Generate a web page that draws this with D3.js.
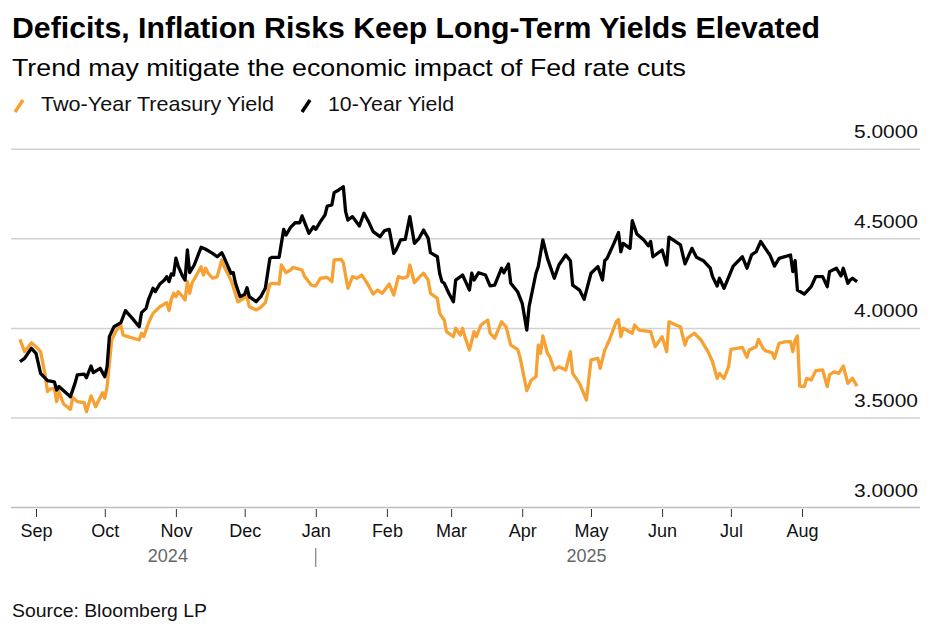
<!DOCTYPE html>
<html>
<head>
<meta charset="utf-8">
<script src="https://cdn.jsdelivr.net/npm/d3@7"></script>
<style>
body { margin: 0; background: #fff; }
svg { display: block; }
text { font-family: "Liberation Sans", Arial, sans-serif; }
</style>
</head>
<body>
<svg id="chart" width="930" height="624"></svg>
<script>
// 10-year yield
var dates10 = ["2024-08-25","2024-08-27","2024-08-30","2024-09-01","2024-09-03","2024-09-06","2024-09-09","2024-09-10","2024-09-11","2024-09-16",
  "2024-09-18","2024-09-19","2024-09-22","2024-09-23","2024-09-25","2024-09-26","2024-09-29","2024-10-01","2024-10-02","2024-10-03",
  "2024-10-05","2024-10-08","2024-10-09","2024-10-10","2024-10-13","2024-10-16","2024-10-17","2024-10-19","2024-10-20","2024-10-22",
  "2024-10-23","2024-10-25","2024-10-27","2024-10-28","2024-10-29","2024-10-30","2024-10-31","2024-11-01","2024-11-02","2024-11-04",
  "2024-11-05","2024-11-06","2024-11-07","2024-11-09","2024-11-12","2024-11-14","2024-11-17","2024-11-19","2024-11-21","2024-11-22",
  "2024-11-25","2024-11-26","2024-11-27","2024-11-29","2024-12-01","2024-12-02","2024-12-03","2024-12-06","2024-12-08","2024-12-10",
  "2024-12-12","2024-12-13","2024-12-16","2024-12-18","2024-12-19","2024-12-21","2024-12-23","2024-12-25","2024-12-26","2024-12-29",
  "2024-12-31","2025-01-01","2025-01-03","2025-01-05","2025-01-06","2025-01-08","2025-01-09","2025-01-11","2025-01-13","2025-01-14",
  "2025-01-15","2025-01-17","2025-01-20","2025-01-22","2025-01-24","2025-01-26","2025-01-29","2025-01-31","2025-02-02","2025-02-04",
  "2025-02-05","2025-02-07","2025-02-09","2025-02-11","2025-02-13","2025-02-15","2025-02-17","2025-02-19","2025-02-20","2025-02-23",
  "2025-02-24","2025-02-25","2025-02-26","2025-02-28","2025-03-02","2025-03-03","2025-03-06","2025-03-09","2025-03-10","2025-03-11",
  "2025-03-13","2025-03-16","2025-03-18","2025-03-20","2025-03-23","2025-03-24","2025-03-26","2025-03-27","2025-03-30","2025-04-01",
  "2025-04-03","2025-04-04","2025-04-07","2025-04-08","2025-04-10","2025-04-12","2025-04-15","2025-04-17","2025-04-20","2025-04-22",
  "2025-04-23","2025-04-26","2025-04-28","2025-05-01","2025-05-04","2025-05-06","2025-05-07","2025-05-08","2025-05-11","2025-05-13",
  "2025-05-14","2025-05-15","2025-05-18","2025-05-19","2025-05-21","2025-05-24","2025-05-26","2025-05-27","2025-05-28","2025-06-01",
  "2025-06-03","2025-06-04","2025-06-09","2025-06-11","2025-06-14","2025-06-16","2025-06-19","2025-06-22","2025-06-23","2025-06-25",
  "2025-06-26","2025-06-28","2025-07-02","2025-07-06","2025-07-08","2025-07-10","2025-07-12","2025-07-14","2025-07-16","2025-07-18",
  "2025-07-20","2025-07-22","2025-07-27","2025-07-28","2025-07-29","2025-07-30","2025-08-02","2025-08-05","2025-08-07","2025-08-10",
  "2025-08-12","2025-08-13","2025-08-16","2025-08-18","2025-08-19","2025-08-21","2025-08-22","2025-08-23","2025-08-25"];
var yield10 = [3.814,3.833,3.889,3.861,3.749,3.708,3.702,3.656,3.675,3.619,
  3.693,3.740,3.745,3.725,3.790,3.753,3.777,3.730,3.786,3.954,
  4.009,4.032,4.065,4.099,4.056,4.009,4.088,4.112,4.159,4.224,
  4.205,4.248,4.270,4.289,4.261,4.304,4.298,4.392,4.348,4.289,
  4.270,4.438,4.311,4.354,4.453,4.442,4.419,4.400,4.423,4.397,
  4.308,4.311,4.252,4.177,4.190,4.227,4.177,4.149,4.177,4.224,
  4.391,4.397,4.397,4.553,4.521,4.564,4.590,4.590,4.628,4.531,
  4.568,4.553,4.596,4.633,4.683,4.689,4.758,4.773,4.791,4.652,
  4.605,4.624,4.572,4.643,4.596,4.540,4.512,4.546,4.553,4.419,
  4.438,4.494,4.497,4.624,4.475,4.503,4.549,4.503,4.423,4.400,
  4.308,4.261,4.252,4.196,4.149,4.270,4.298,4.214,4.308,4.270,
  4.311,4.298,4.237,4.242,4.336,4.311,4.360,4.252,4.205,4.140,
  3.991,4.121,4.308,4.345,4.494,4.391,4.280,4.354,4.410,4.378,
  4.242,4.214,4.162,4.308,4.345,4.270,4.378,4.391,4.475,4.535,
  4.428,4.475,4.447,4.601,4.527,4.494,4.461,4.485,4.400,4.438,
  4.354,4.509,4.466,4.360,4.447,4.397,4.378,4.336,4.289,4.237,
  4.280,4.224,4.348,4.400,4.336,4.410,4.428,4.485,4.447,4.410,
  4.348,4.391,4.410,4.317,4.378,4.214,4.192,4.233,4.289,4.289,
  4.233,4.317,4.336,4.293,4.336,4.252,4.270,4.280,4.261];

// two-year yield
var dates2 = ["2024-08-25","2024-08-27","2024-08-30","2024-09-01","2024-09-03","2024-09-05","2024-09-06","2024-09-07","2024-09-09","2024-09-10",
  "2024-09-11","2024-09-13","2024-09-16","2024-09-17","2024-09-19","2024-09-22","2024-09-23","2024-09-25","2024-09-27","2024-09-30",
  "2024-10-01","2024-10-02","2024-10-04","2024-10-06","2024-10-08","2024-10-09","2024-10-10","2024-10-16","2024-10-17","2024-10-18",
  "2024-10-20","2024-10-22","2024-10-25","2024-10-28","2024-10-29","2024-10-30","2024-10-31","2024-11-01","2024-11-02","2024-11-04",
  "2024-11-05","2024-11-06","2024-11-07","2024-11-08","2024-11-10","2024-11-12","2024-11-13","2024-11-14","2024-11-15","2024-11-17",
  "2024-11-19","2024-11-21","2024-11-22","2024-11-25","2024-11-26","2024-11-28","2024-11-30","2024-12-02","2024-12-03","2024-12-06",
  "2024-12-08","2024-12-10","2024-12-12","2024-12-13","2024-12-16","2024-12-17","2024-12-19","2024-12-21","2024-12-22","2024-12-26",
  "2024-12-27","2024-12-30","2025-01-01","2025-01-03","2025-01-06","2025-01-08","2025-01-09","2025-01-12","2025-01-13","2025-01-15",
  "2025-01-17","2025-01-19","2025-01-21","2025-01-23","2025-01-26","2025-01-28","2025-01-30","2025-02-02","2025-02-04","2025-02-06",
  "2025-02-08","2025-02-10","2025-02-11","2025-02-13","2025-02-15","2025-02-17","2025-02-19","2025-02-20","2025-02-23","2025-02-24",
  "2025-02-26","2025-02-27","2025-03-02","2025-03-03","2025-03-05","2025-03-06","2025-03-07","2025-03-09","2025-03-11","2025-03-12",
  "2025-03-14","2025-03-17","2025-03-18","2025-03-20","2025-03-23","2025-03-25","2025-03-27","2025-03-30","2025-03-31","2025-04-03",
  "2025-04-05","2025-04-07","2025-04-08","2025-04-09","2025-04-10","2025-04-12","2025-04-13","2025-04-15","2025-04-17","2025-04-20",
  "2025-04-22","2025-04-23","2025-04-26","2025-04-29","2025-05-01","2025-05-04","2025-05-05","2025-05-07","2025-05-09","2025-05-12",
  "2025-05-13","2025-05-14","2025-05-15","2025-05-19","2025-05-20","2025-05-22","2025-05-27","2025-05-29","2025-06-01","2025-06-03",
  "2025-06-04","2025-06-07","2025-06-09","2025-06-11","2025-06-12","2025-06-15","2025-06-18","2025-06-21","2025-06-23","2025-06-25",
  "2025-06-26","2025-06-28","2025-06-30","2025-07-01","2025-07-06","2025-07-08","2025-07-09","2025-07-12","2025-07-13","2025-07-15",
  "2025-07-16","2025-07-19","2025-07-20","2025-07-22","2025-07-25","2025-07-27","2025-07-28","2025-07-29","2025-07-30","2025-07-31",
  "2025-08-02","2025-08-03","2025-08-05","2025-08-07","2025-08-10","2025-08-12","2025-08-13","2025-08-15","2025-08-17","2025-08-19",
  "2025-08-21","2025-08-22","2025-08-23","2025-08-25"];
var yield2 = [3.939,3.870,3.920,3.898,3.870,3.740,3.647,3.660,3.666,3.591,
  3.647,3.578,3.548,3.615,3.591,3.585,3.535,3.623,3.563,3.641,
  3.610,3.674,3.935,3.987,4.019,3.963,3.958,3.935,3.973,3.954,
  4.029,4.084,4.121,4.144,4.099,4.162,4.196,4.177,4.205,4.177,
  4.159,4.261,4.196,4.252,4.298,4.345,4.298,4.336,4.308,4.280,
  4.289,4.382,4.345,4.270,4.233,4.149,4.162,4.181,4.121,4.103,
  4.118,4.144,4.248,4.252,4.248,4.354,4.311,4.326,4.341,4.326,
  4.293,4.242,4.237,4.280,4.285,4.261,4.382,4.386,4.367,4.224,
  4.289,4.280,4.298,4.261,4.192,4.214,4.196,4.248,4.186,4.289,
  4.280,4.289,4.354,4.255,4.285,4.308,4.270,4.196,4.168,4.084,
  4.047,3.982,3.954,4.001,3.963,4.001,3.954,3.879,3.982,3.954,
  4.019,4.047,3.973,3.945,4.037,4.009,3.907,3.883,3.842,3.652,
  3.712,3.730,3.907,3.861,3.958,3.861,3.842,3.768,3.786,3.768,
  3.870,3.749,3.693,3.600,3.824,3.833,3.777,3.879,3.935,4.037,
  4.050,3.954,4.001,3.973,4.019,3.991,3.982,3.898,3.954,3.870,
  4.037,4.019,4.009,3.907,3.945,3.973,3.935,3.870,3.814,3.721,
  3.749,3.721,3.786,3.883,3.894,3.839,3.879,3.898,3.939,3.889,
  3.876,3.864,3.833,3.917,3.926,3.926,3.870,3.935,3.958,3.678,
  3.675,3.721,3.712,3.764,3.768,3.675,3.740,3.758,3.749,3.790,
  3.693,3.708,3.721,3.678];

var monthTicks = ["2024-09-01","2024-10-01","2024-11-01","2024-12-01","2025-01-01","2025-02-01",
  "2025-03-01","2025-04-01","2025-05-01","2025-06-01","2025-07-01","2025-08-01"];
var yTicks = [3.0, 3.5, 4.0, 4.5, 5.0];
var yearLabels = ["2024", "2025"];
var seriesNames = ["Two-Year Treasury Yield", "10-Year Yield"];
var seriesColors = ["#f7a133", "#000000"];

var parse = d3.timeParse("%Y-%m-%d");
var svg = d3.select("#chart");

var x = d3.scaleTime()
    .domain([parse("2024-09-01"), parse("2025-08-01")])
    .range([36, 802]);
var y = d3.scaleLinear()
    .domain([3, 5])
    .range([507.5, 149.3]);

// title block
svg.append("text").attr("x", 12).attr("y", 38)
    .attr("font-size", 30).attr("font-weight", "bold").attr("fill", "#000")
    .attr("textLength", 808).attr("lengthAdjust", "spacingAndGlyphs")
    .text("Deficits, Inflation Risks Keep Long-Term Yields Elevated");
svg.append("text").attr("x", 12).attr("y", 76)
    .attr("font-size", 24).attr("fill", "#000")
    .attr("textLength", 674).attr("lengthAdjust", "spacingAndGlyphs")
    .text("Trend may mitigate the economic impact of Fed rate cuts");

// legend
var legendX = [14, 301];
var legendW = [233, 126];
seriesNames.forEach(function(name, i) {
    svg.append("line")
        .attr("x1", legendX[i] + 1).attr("y1", 112)
        .attr("x2", legendX[i] + 9).attr("y2", 100)
        .attr("stroke", seriesColors[i]).attr("stroke-width", 3.5);
    svg.append("text").attr("x", legendX[i] + 27).attr("y", 111)
        .attr("font-size", 21).attr("fill", "#111")
        .attr("textLength", legendW[i]).attr("lengthAdjust", "spacingAndGlyphs")
        .text(name);
});

// grid + y labels
svg.selectAll(".grid").data(yTicks).enter().append("line")
    .attr("x1", 11).attr("x2", 920)
    .attr("y1", function(d) { return y(d); })
    .attr("y2", function(d) { return y(d); })
    .attr("stroke", function(d) { return d === 3 ? "#bdbdbd" : "#d2d2d2"; })
    .attr("stroke-width", 1.5);
svg.selectAll(".ylab").data(yTicks).enter().append("text")
    .attr("x", 918).attr("y", function(d) { return y(d) - 11; })
    .attr("text-anchor", "end").attr("font-size", 17.5).attr("fill", "#111")
    .attr("textLength", 64).attr("lengthAdjust", "spacingAndGlyphs")
    .text(function(d) { return d3.format(".4f")(d); });

// x axis
var xAxis = d3.axisBottom(x)
    .tickValues(monthTicks.map(parse))
    .tickFormat(d3.timeFormat("%b"))
    .tickSize(8).tickPadding(7);
var gx = svg.append("g").attr("transform", "translate(0,509)").call(xAxis);
gx.select(".domain").remove();
gx.selectAll(".tick line").attr("stroke", "#333");
gx.selectAll(".tick text")
    .attr("font-size", 18).attr("fill", "#111")
    .attr("font-family", "Liberation Sans, Arial, sans-serif");

// year row
var start = parse(dates2[0]), end = parse(dates2[dates2.length - 1]), jan = parse("2025-01-01");
var yearMid = [new Date((+start + +jan) / 2), new Date((+jan + +end) / 2)];
yearLabels.forEach(function(lab, i) {
    svg.append("text").attr("x", x(yearMid[i])).attr("y", 562)
        .attr("text-anchor", "middle").attr("font-size", 18).attr("fill", "#666")
        .text(lab);
});
svg.append("line")
    .attr("x1", x(jan)).attr("x2", x(jan)).attr("y1", 548).attr("y2", 567)
    .attr("stroke", "#666").attr("stroke-width", 1);

// lines
var line = d3.line()
    .x(function(d) { return x(d[0]); })
    .y(function(d) { return y(d[1]); });

var series = [
    dates2.map(function(d, i) { return [parse(d), yield2[i]]; }),
    dates10.map(function(d, i) { return [parse(d), yield10[i]]; })
];
series.forEach(function(s, i) {
    svg.append("path").datum(s)
        .attr("d", line)
        .attr("fill", "none")
        .attr("stroke", seriesColors[i])
        .attr("stroke-width", 3.3)
        .attr("stroke-linejoin", "round");
});

// source
svg.append("text").attr("x", 12).attr("y", 617)
    .attr("font-size", 18).attr("fill", "#111")
    .attr("textLength", 195).attr("lengthAdjust", "spacingAndGlyphs")
    .text("Source: Bloomberg LP");
</script>
</body>
</html>
